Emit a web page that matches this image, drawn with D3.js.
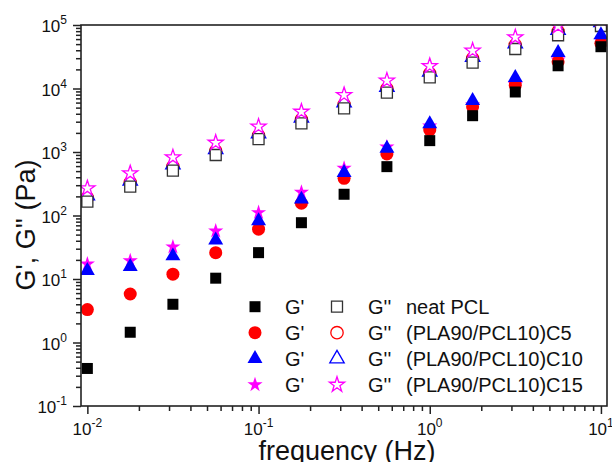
<!DOCTYPE html>
<html><head><meta charset="utf-8">
<script src="https://cdn.jsdelivr.net/npm/d3@7"></script>
<style>
html,body{margin:0;padding:0;background:#fff;}
svg{display:block;font-family:Arial,"Liberation Sans",sans-serif;}
</style></head>
<body><svg id="c" width="612" height="462"></svg>
<script>
const freq = [0.01, 0.0178, 0.0316, 0.0562, 0.1, 0.178, 0.316, 0.562, 1, 1.78, 3.16, 5.62, 10];
const gpPCL  = [0.39, 1.45, 4.0, 10.3, 26, 77, 216, 588, 1510, 3730, 8810, 22800, 45500];
const gppPCL = [165, 284, 508, 897, 1590, 2830, 4880, 8590, 15000, 25500, 41900, 68900, 96400];
const gpC5   = [3.3, 5.8, 11.9, 26, 61, 156, 385, 931, 2220, 5180, 11300, 26400, 51500];
const gppC5  = [190, 330, 590, 1030, 1820, 3250, 5600, 9900, 17200, 29500, 48500, 79000, 105000];
const gpC10  = [13.5, 15.6, 23, 41, 82, 180, 472, 1140, 2760, 6430, 14800, 36600, 69600];
const gppC10 = [205, 350, 630, 1100, 1950, 3450, 6000, 10500, 18300, 31000, 51000, 83000, 110000];
const gpC15  = [17.2, 19.4, 32, 57, 111, 232, 553, 1200, 2570, 5500, 11500, 28100, 57000];
const gppC15 = [268, 462, 824, 1400, 2510, 4310, 7900, 13300, 22600, 39400, 64000, 96000, 125000];
const seriesNames = ["neat PCL", "(PLA90/PCL10)C5", "(PLA90/PCL10)C10", "(PLA90/PCL10)C15"];
const xTickExp = [-2, -1, 0, 1];
const yTickExp = [-1, 0, 1, 2, 3, 4, 5];
const xTitle = "frequency (Hz)";
const yTitle = "G', G'' (Pa)";

const svg = d3.select("#c");
const L = 81, R = 607, T = 25, B = 406;
const x = d3.scaleLog().domain([0.00918, 10.85]).range([L, R]);
const y = d3.scaleLog().domain([0.1, 1e5]).range([B, T]);

const styles = [
  {name: seriesNames[0], color: "#000", sym: d3.symbolSquare, size: 121, osize: 121, gp: gpPCL, gpp: gppPCL, ostroke: "#333"},
  {name: seriesNames[1], color: "#ff0000", sym: d3.symbolCircle, size: 133, osize: 120, gp: gpC5, gpp: gppC5, ostroke: "#ff0000"},
  {name: seriesNames[2], color: "#0000ff", sym: d3.symbolTriangle, size: 97, osize: 90, gp: gpC10, gpp: gppC10, ostroke: "#0000ff"},
  {name: seriesNames[3], color: "#ff00ff", sym: d3.symbolStar, size: 72, osize: 72, gp: gpC15, gpp: gppC15, ostroke: "#ff00ff"}
];

svg.append("defs").append("clipPath").attr("id","clip")
  .append("rect").attr("x", L).attr("y", T).attr("width", R-L).attr("height", B-T);
const plot = svg.append("g").attr("clip-path","url(#clip)");

function drawSeries(st, vals, open) {
  plot.append("g").selectAll("path").data(freq.map((f,i)=>[f, vals[i]])).join("path")
    .attr("transform", d => `translate(${x(d[0])},${y(d[1])})`)
    .attr("d", d3.symbol(st.sym, open ? st.osize : st.size)())
    .attr("fill", open ? "#fff" : st.color)
    .attr("stroke", open ? st.ostroke : "none")
    .attr("stroke-width", open ? 1.3 : 0);
}
// open (G'') markers
drawSeries(styles[1], styles[1].gpp, true);
drawSeries(styles[2], styles[2].gpp, true);
drawSeries(styles[0], styles[0].gpp, true);
drawSeries(styles[3], styles[3].gpp, true);
// filled (G') markers
drawSeries(styles[3], styles[3].gp, false);
drawSeries(styles[1], styles[1].gp, false);
drawSeries(styles[2], styles[2].gp, false);
drawSeries(styles[0], styles[0].gp, false);

// frame
svg.append("rect").attr("x", L).attr("y", T).attr("width", R-L).attr("height", B-T)
  .attr("fill","none").attr("stroke","#222").attr("stroke-width",1.6);

// minor ticks
function minors(lo, hi) {
  const out = [];
  for (let e = lo; e <= hi; e++) for (let m = 2; m <= 9; m++) out.push(m * Math.pow(10, e));
  return out;
}
const xMajor = xTickExp.map(e => Math.pow(10, e));
const yMajor = yTickExp.map(e => Math.pow(10, e));
const xMinor = minors(-3, 1).filter(v => v > x.domain()[0] && v < x.domain()[1]);
const yMinor = minors(-1, 4);

const gx = svg.append("g").attr("transform", `translate(0,${B})`);
gx.call(d3.axisBottom(x).tickValues(xMajor).tickSize(8).tickFormat(""));
gx.append("g").call(d3.axisBottom(x).tickValues(xMinor).tickSize(5).tickFormat(""));
const gy = svg.append("g").attr("transform", `translate(${L},0)`);
gy.call(d3.axisLeft(y).tickValues(yMajor).tickSize(8).tickFormat(""));
gy.append("g").call(d3.axisLeft(y).tickValues(yMinor).tickSize(5).tickFormat(""));
svg.selectAll(".domain").remove();
svg.selectAll(".tick line").attr("stroke","#222").attr("stroke-width",1.5);

// tick labels
xTickExp.forEach(e => {
  const t = svg.append("text").attr("x", x(Math.pow(10,e))).attr("y", 435)
    .attr("text-anchor","middle").attr("font-size",17).attr("fill","#111");
  t.append("tspan").text("10");
  t.append("tspan").attr("dy",-8).attr("font-size",12).text(e);
});
yTickExp.forEach(e => {
  const t = svg.append("text").attr("x", 67).attr("y", y(Math.pow(10,e)) + 7)
    .attr("text-anchor","end").attr("font-size",17).attr("fill","#111");
  t.append("tspan").text("10");
  t.append("tspan").attr("dy",-8).attr("font-size",12).text(e);
});

// axis titles
svg.append("text").attr("x", 347).attr("y", 460).attr("text-anchor","middle")
  .attr("font-size",27).attr("fill","#111").text(xTitle);
svg.append("text").attr("transform","translate(35,225) rotate(-90)").attr("text-anchor","middle")
  .attr("font-size",27).attr("fill","#111").text(yTitle);

// legend
const lg = svg.append("g");
styles.forEach((st, i) => {
  const ry = 306.7 + 26 * i;
  lg.append("path").attr("transform",`translate(255,${ry})`)
    .attr("d", d3.symbol(st.sym, st.size)()).attr("fill", st.color);
  lg.append("text").attr("x",285).attr("y",ry+7).attr("font-size",20).attr("fill","#111").text("G'");
  lg.append("path").attr("transform",`translate(337,${ry})`)
    .attr("d", d3.symbol(st.sym, st.osize)()).attr("fill","#fff").attr("stroke", st.ostroke).attr("stroke-width",1.3);
  lg.append("text").attr("x",368).attr("y",ry+7).attr("font-size",20).attr("fill","#111").text("G''");
  lg.append("text").attr("x",406).attr("y",ry+7).attr("font-size",20).attr("fill","#111").text(st.name);
});
</script></body></html>
